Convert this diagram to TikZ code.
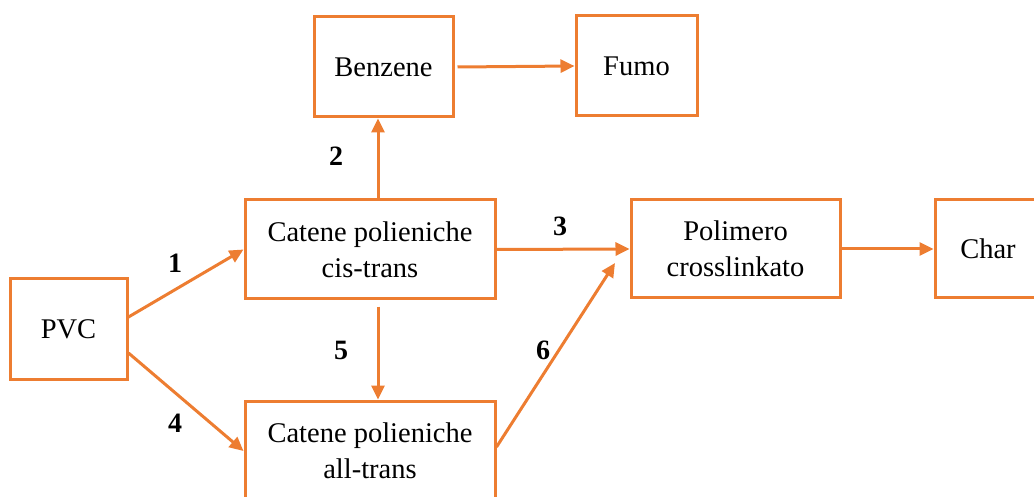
\documentclass[tikz,border=0pt]{standalone}
\usepackage{fontspec}
\setmainfont{Liberation Serif}
\usetikzlibrary{arrows.meta}
\definecolor{ora}{HTML}{ED7D31}
\begin{document}
\begin{tikzpicture}[x=1pt,y=-1pt,
  box/.style={draw=ora,line width=3pt,fill=white,rectangle,align=center,inner sep=0pt,
    font=\fontsize{28.5}{36}\selectfont},
  conn/.style={draw=ora,line width=3pt,-{Triangle[length=14pt,width=13pt]}},
  num/.style={font=\fontsize{28}{32}\selectfont\bfseries,inner sep=0pt}]
\clip (0,0) rectangle (1034,497);
\node[box,minimum width=117pt,minimum height=100pt] (pvc) at (68.5,329) {PVC};
\node[box,minimum width=250pt,minimum height=99pt] (cis) at (370,249.5) {Catene polieniche\\cis-trans};
\node[box,minimum width=250pt,minimum height=100pt] (all) at (370,451) {Catene polieniche\\all-trans};
\node[box,minimum width=209pt,minimum height=98pt] (pol) at (735.5,249) {Polimero\\crosslinkato};
\node[box,minimum width=106pt,minimum height=98pt] (char) at (988,249) {Char};
\node[box,minimum width=139pt,minimum height=100pt] (benz) at (383.5,67) {Benzene};
\node[box,minimum width=121pt,minimum height=100pt] (fumo) at (636.5,66) {Fumo};
\coordinate (p6) at (615,263);
\draw[conn] ([yshift=12pt]pvc.east) -- (cis.west);
\draw[conn] ([yshift=-24pt]pvc.east) -- (all.west);
\draw[conn] ([xshift=8pt]cis.north) -- ([xshift=-5.5pt]benz.south);
\draw[conn] ([xshift=8pt,yshift=-6pt]cis.south) -- ([xshift=8pt]all.north);
\draw[conn] (cis.east) -- (pol.west);
\draw[conn] ([yshift=4pt]all.east) -- (p6);
\draw[conn] ([xshift=3pt]benz.east) -- (fumo.west);
\draw[conn] (pol.east) -- (char.west);
\node[num] (n1) at (175,263) {1};
\node[num] (n4) at (175,423) {4};
\node[num] (n2) at (336,156) {2};
\node[num] (n5) at (341,350) {5};
\node[num] (n3) at (560,226) {3};
\node[num] (n6) at (543,350) {6};
\end{tikzpicture}
\end{document}
